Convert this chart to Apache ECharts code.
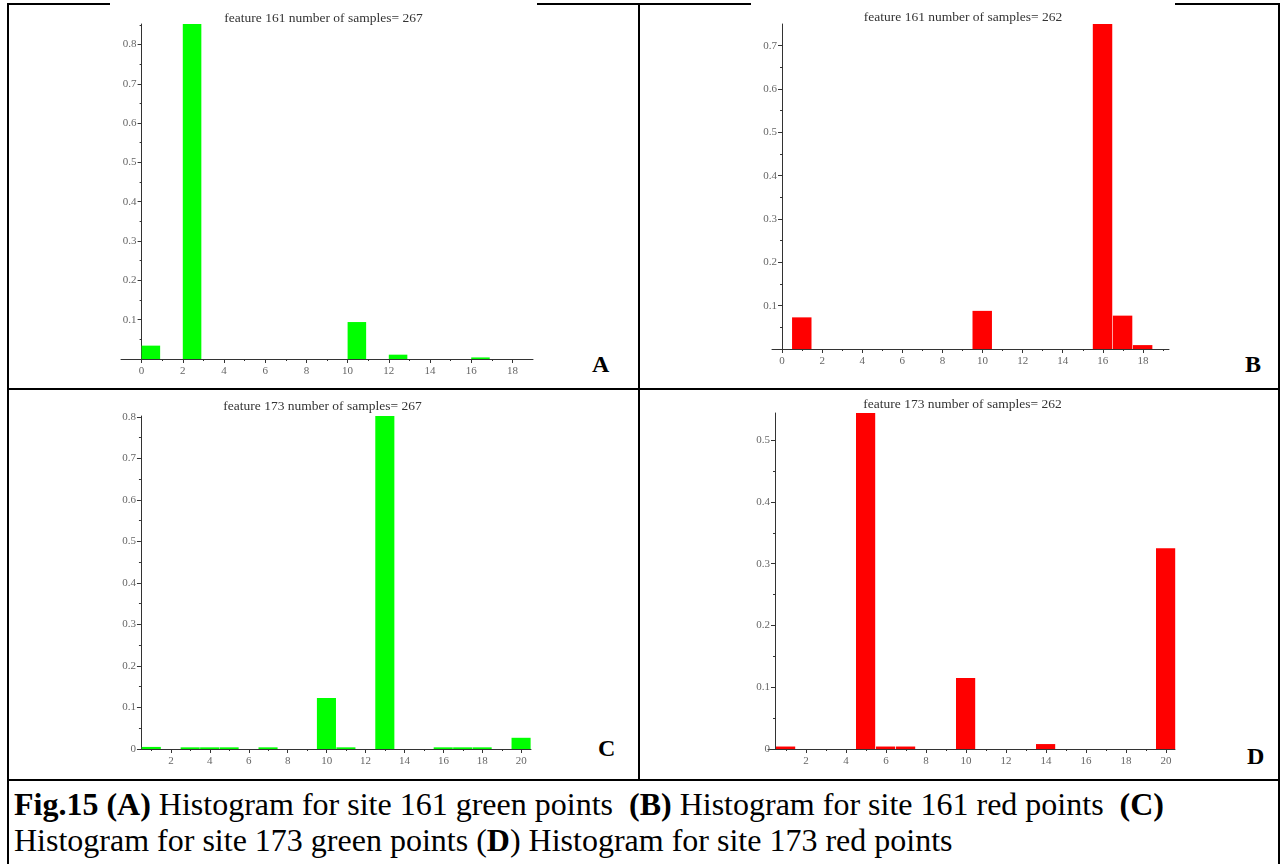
<!DOCTYPE html>
<html><head><meta charset="utf-8">
<script src="https://cdn.jsdelivr.net/npm/echarts@6/dist/echarts.min.js"></script>
<style>
html,body{margin:0;padding:0;background:#fff}
body{width:1285px;height:864px;position:relative;overflow:hidden;font-family:'Liberation Serif','Times New Roman',serif}
.hl{position:absolute;height:2px;background:#000}
.vl{position:absolute;width:2px;background:#000}
.chart{position:absolute;background:#fff}
.letter{position:absolute;font-weight:bold;font-size:24px;line-height:24px;color:#000}
.cap{position:absolute;left:14px;font-size:32px;line-height:36px;white-space:nowrap;color:#000}
</style></head>
<body>
<div class="hl" style="left:7px;top:3px;width:1273px"></div>
<div class="vl" style="left:7px;top:3px;height:861px"></div>
<div class="vl" style="left:1278px;top:3px;height:861px"></div>
<div class="vl" style="left:638px;top:3px;height:777px"></div>
<div class="hl" style="left:7px;top:388px;width:1273px"></div>
<div class="hl" style="left:7px;top:779px;width:1273px"></div>

<div id="cA" class="chart" style="left:110px;top:2px;width:427px;height:386px"></div>
<div id="cB" class="chart" style="left:751px;top:2px;width:424px;height:386px"></div>
<div id="cC" class="chart" style="left:110px;top:390px;width:425px;height:389px"></div>
<div id="cD" class="chart" style="left:745px;top:390px;width:435px;height:389px"></div>

<div class="letter" style="left:592px;top:352px">A</div>
<div class="letter" style="left:1245px;top:352px">B</div>
<div class="letter" style="left:598px;top:736px">C</div>
<div class="letter" style="left:1247px;top:744px">D</div>

<div class="cap" style="top:786px"><b>Fig.15 (A)</b> Histogram for site 161 green points&nbsp; <b>(B)</b> Histogram for site 161 red points&nbsp; <b>(C)</b></div>
<div class="cap" style="top:822px">Histogram for site 173 green points (<b>D</b>) Histogram for site 173 red points</div>

<script>
// ---- data ----
const aTitle = 'feature 161 number of samples= 267';
const aBinStart = [0, 2, 10, 12, 16];
const aFreq = [0.034, 0.852, 0.094, 0.011, 0.004];
const aXTicks = [0, 2, 4, 6, 8, 10, 12, 14, 16, 18];
const aYTicks = [0, 0.1, 0.2, 0.3, 0.4, 0.5, 0.6, 0.7, 0.8];

const bTitle = 'feature 161 number of samples= 262';
const bBinStart = [0.5, 9.5, 15.5, 16.5, 17.5];
const bFreq = [0.073, 0.088, 0.750, 0.077, 0.009];
const bXTicks = [0, 2, 4, 6, 8, 10, 12, 14, 16, 18];
const bYTicks = [0, 0.1, 0.2, 0.3, 0.4, 0.5, 0.6, 0.7];

const cTitle = 'feature 173 number of samples= 267';
const cBinStart = [0.5, 2.5, 3.5, 4.5, 6.5, 9.5, 10.5, 12.5, 15.5, 16.5, 17.5, 19.5];
const cFreq = [0.005, 0.004, 0.004, 0.004, 0.004, 0.123, 0.004, 0.802, 0.004, 0.004, 0.004, 0.027];
const cXTicks = [2, 4, 6, 8, 10, 12, 14, 16, 18, 20];
const cYTicks = [0, 0.1, 0.2, 0.3, 0.4, 0.5, 0.6, 0.7, 0.8];

const dTitle = 'feature 173 number of samples= 262';
const dBinStart = [0.5, 4.5, 5.5, 6.5, 9.5, 13.5, 19.5];
const dFreq = [0.004, 0.544, 0.004, 0.004, 0.115, 0.008, 0.325];
const dXTicks = [2, 4, 6, 8, 10, 12, 14, 16, 18, 20];
const dYTicks = [0, 0.1, 0.2, 0.3, 0.4, 0.5];

// ---- layout / style ----
const panels = [
  {el:'cA', title:aTitle, bins:aBinStart, freq:aFreq, xTicks:aXTicks, yTicks:aYTicks, color:'#00ff00',
   binW:0.9, xMin:-1, xMax:19, yAxisAt:0, zeroLabel:false, grid:{left:11, top:22, width:412, height:335}, titleTop:4},
  {el:'cB', title:bTitle, bins:bBinStart, freq:bFreq, xTicks:bXTicks, yTicks:bYTicks, color:'#ff0000',
   binW:0.97, xMin:-0.5, xMax:19.3, yAxisAt:0, zeroLabel:false, grid:{left:21, top:22, width:397, height:325}, titleTop:3},
  {el:'cC', title:cTitle, bins:cBinStart, freq:cFreq, xTicks:cXTicks, yTicks:cYTicks, color:'#00ff00',
   binW:0.98, xMin:0.36, xMax:20.5, yAxisAt:0.46, zeroLabel:true, grid:{left:29, top:26, width:392, height:333}, titleTop:4},
  {el:'cD', title:dTitle, bins:dBinStart, freq:dFreq, xTicks:dXTicks, yTicks:dYTicks, color:'#ff0000',
   binW:0.96, xMin:0.1, xMax:20.45, yAxisAt:0.45, zeroLabel:true, grid:{left:23, top:23, width:407, height:336}, titleTop:2}
];

const lbl = {fontFamily:'Liberation Serif', fontSize:11, color:'#666'};

panels.forEach(function(p){
  const chart = echarts.init(document.getElementById(p.el), null, {renderer:'canvas'});
  const yMax = Math.max.apply(null, p.freq);
  const yOffset = -(p.yAxisAt - p.xMin) / (p.xMax - p.xMin) * p.grid.width;
  const minorX = [];
  p.xTicks.forEach(function(t){ if (t - 1 > p.xMin && minorX.indexOf(t-1) < 0) minorX.push(t - 1); if (t + 1 < p.xMax && p.xTicks.indexOf(t + 1) < 0 && minorX.indexOf(t+1) < 0) minorX.push(t + 1); });
  const data = p.bins.map(function(b, i){ return [b, p.freq[i]]; });
  chart.setOption({
    animation:false,
    backgroundColor:'#fff',
    title:{text:p.title, left:'center', top:p.titleTop,
      textStyle:{fontFamily:'Liberation Serif', fontSize:13.5, fontWeight:'normal', color:'#333'}},
    grid:Object.assign({outerBoundsMode:'none', containLabel:false}, p.grid),
    xAxis:[{
      type:'value', min:p.xMin, max:p.xMax, interval:1,
      splitLine:{show:false},
      axisLine:{onZero:false, lineStyle:{color:'#333', width:1}},
      axisTick:{show:true, length:4, customValues:p.xTicks, lineStyle:{color:'#333'}},
      axisLabel:Object.assign({margin:7, customValues:p.xTicks, formatter:function(v){return String(v);}}, lbl)
    },{
      type:'value', min:p.xMin, max:p.xMax, interval:1, position:'bottom',
      splitLine:{show:false},
      axisLine:{show:false, onZero:false},
      axisTick:{show:true, length:2, customValues:minorX, lineStyle:{color:'#333'}},
      axisLabel:{show:false}
    }],
    yAxis:{
      type:'value', min:0, max:yMax, interval:0.1, offset:yOffset,
      splitLine:{show:false},
      axisLine:{onZero:false, lineStyle:{color:'#333', width:1}},
      axisTick:{show:true, length:4, customValues:p.yTicks, lineStyle:{color:'#333'}},
      minorTick:{show:true, splitNumber:2, length:2, lineStyle:{color:'#333'}},
      axisLabel:Object.assign({margin:5, customValues:p.yTicks, formatter:function(v){
        if (Math.abs(v) < 1e-9) return p.zeroLabel ? '0' : '';
        return v.toFixed(1);
      }}, lbl)
    },
    series:[{
      type:'custom',
      xAxisIndex:0, yAxisIndex:0,
      data:data,
      itemStyle:{color:p.color},
      renderItem:function(params, api){
        const x0 = api.value(0), v = api.value(1);
        const tl = api.coord([x0, v]);
        const br = api.coord([x0 + p.binW, 0]);
        return {type:'rect', shape:{x:tl[0], y:tl[1], width:br[0]-tl[0], height:br[1]-tl[1]},
          style:{fill:p.color}};
      }
    }]
  });
});
</script>
</body></html>
